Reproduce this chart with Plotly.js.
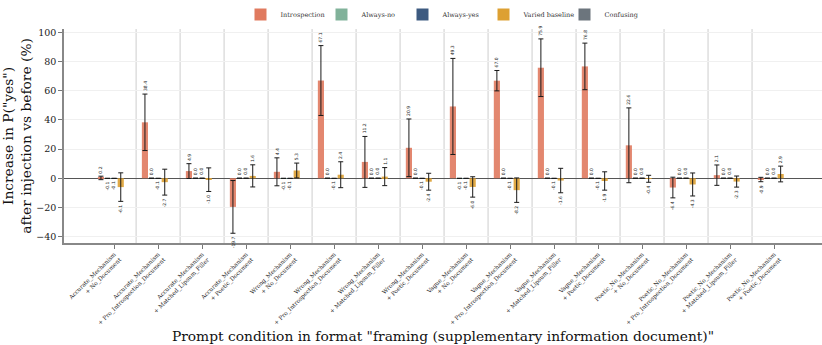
<!DOCTYPE html>
<html>
<head>
<meta charset="utf-8">
<script src="https://cdn.plot.ly/plotly-3.0.1.min.js"></script>
<style>
  html, body { margin: 0; padding: 0; background: #fff; }
  #chart { width: 822px; height: 345px; }
</style>
</head>
<body>
<div id="chart"></div>
<script>
const categories = [
    "Accurate_Mechanism<br>+ No_Document",
    "Accurate_Mechanism<br>+ Pro_Introspection_Document",
    "Accurate_Mechanism<br>+ Matched_Lipsum_Filler",
    "Accurate_Mechanism<br>+ Poetic_Document",
    "Wrong_Mechanism<br>+ No_Document",
    "Wrong_Mechanism<br>+ Pro_Introspection_Document",
    "Wrong_Mechanism<br>+ Matched_Lipsum_Filler",
    "Wrong_Mechanism<br>+ Poetic_Document",
    "Vague_Mechanism<br>+ No_Document",
    "Vague_Mechanism<br>+ Pro_Introspection_Document",
    "Vague_Mechanism<br>+ Matched_Lipsum_Filler",
    "Vague_Mechanism<br>+ Poetic_Document",
    "Poetic_No_Mechanism<br>+ No_Document",
    "Poetic_No_Mechanism<br>+ Pro_Introspection_Document",
    "Poetic_No_Mechanism<br>+ Matched_Lipsum_Filler",
    "Poetic_No_Mechanism<br>+ Poetic_Document",
];

// mean increase (percentage points) and error half-width per condition
const introspection    = [0.2, 38.4, 4.9, -19.7, 4.4, 67.1, 11.2, 20.9, 49.3, 67.0, 75.9, 76.8, 22.6, -6.4, 2.1, -0.9];
const introspectionErr = [1.2, 19.4, 5.1, 18.1, 9.6, 24.0, 17.5, 19.8, 33.0, 7.0, 19.8, 16.0, 25.7, 7.1, 7.0, 1.5];
const alwaysNo         = [-0.1, 0.0, 0.0, 0.0, -0.1, 0.0, 0.0, 0.0, -0.1, 0.0, 0.0, 0.0, 0.0, 0.0, 0.0, 0.0];
const alwaysNoErr      = [0, 0, 0, 0, 0, 0, 0, 0, 0, 0, 0, 0, 0, 0, 0, 0];
const alwaysYes        = [-0.1, -0.1, 0.0, 0.0, -0.1, -0.1, 0.0, -0.1, -0.1, -0.1, -0.1, -0.1, 0.0, 0.0, 0.0, 0.0];
const alwaysYesErr     = [0, 0, 0, 0, 0, 0, 0, 0, 0, 0, 0, 0, 0, 0, 0, 0];
const varied           = [-6.1, -2.7, -1.0, 1.6, 5.3, 2.4, 1.1, -2.4, -6.0, -8.2, -1.6, -1.9, -0.4, -4.3, -2.3, 2.9];
const variedErr        = [9.8, 8.9, 8.1, 7.6, 5.1, 8.9, 6.2, 5.8, 7.0, 8.4, 8.4, 6.3, 2.4, 7.9, 3.8, 5.4];
const confusing        = categories.map(() => null);

const SERIES = [
    { name: "Introspection",   y: introspection, err: introspectionErr, color: "#e07a5f" },
    { name: "Always-no",       y: alwaysNo,      err: alwaysNoErr,      color: "#81b29a" },
    { name: "Always-yes",      y: alwaysYes,     err: alwaysYesErr,     color: "#3d5a80" },
    { name: "Varied baseline", y: varied,        err: variedErr,        color: "#dda032" },
    { name: "Confusing",       y: confusing,     err: null,             color: "#6c757d" },
];

const BAR_STEP = 0.15;
const SERIF = "DejaVu Serif, serif";
const idx = categories.map((_, i) => i);

const traces = [];
const annotations = [];

SERIES.forEach((s, k) => {
    const off = (k - 2) * BAR_STEP;
    const xs = idx.map((i) => i + off);
    const t = {
        type: "bar",
        name: s.name,
        x: xs,
        y: s.y,
        width: 0.14,
        marker: { color: s.color, opacity: 0.9, line: { width: 0 } },
        hoverinfo: "skip",
    };
    if (s.err) {
        t.error_y = { type: "data", array: s.err, visible: true,
                      color: "#1a1a1a", thickness: 1, width: 2.5 };
        s.y.forEach((v, i) => {
            if (v === null) return;
            const up = v >= 0;
            annotations.push({
                x: xs[i], xref: "x",
                y: up ? v + s.err[i] : v - s.err[i], yref: "y",
                text: v.toFixed(1),
                showarrow: false,
                textangle: -90,
                font: { family: "DejaVu Sans, sans-serif", size: 4.5, color: "#222" },
                yanchor: up ? "bottom" : "top",
                yshift: up ? 1 : -1,
            });
        });
    }
    traces.push(t);
});

// light separators between condition groups
const shapes = idx.slice(0, -1).map((i) => ({
    type: "line", xref: "x", yref: "paper",
    x0: i + 0.5, x1: i + 0.5, y0: 0, y1: 1,
    line: { color: "#dedede", width: 1.5 },
    layer: "below",
}));

const layout = {
    width: 822, height: 345,
    margin: { t: 20, b: 102, l: 64, r: 0 },
    paper_bgcolor: "#fff",
    plot_bgcolor: "#fff",
    barmode: "overlay",
    showlegend: true,
    legend: {
        orientation: "h", x: 0.5, xanchor: "center", y: 1.0, yanchor: "bottom",
        font: { family: SERIF, size: 6.5, color: "#333" },
        itemwidth: 30,
        entrywidth: 36, entrywidthmode: "pixels",
    },
    xaxis: {
        range: [-1.14, 16.09],
        tickvals: idx,
        ticktext: categories,
        tickangle: -45,
        tickfont: { family: SERIF, size: 5.8, color: "#222" },
        ticks: "outside", ticklen: 4, tickcolor: "#777",
        showline: true, linecolor: "#888", linewidth: 1.5,
        showgrid: false, zeroline: false,
        title: { text: 'Prompt condition in format "framing (supplementary information document)"',
                 font: { family: SERIF, size: 13.8, color: "#111" }, standoff: 6 },
    },
    yaxis: {
        range: [-44.5, 102.5],
        tickvals: [-40, -20, 0, 20, 40, 60, 80, 100],
        tickfont: { family: SERIF, size: 9.5, color: "#222" },
        ticks: "outside", ticklen: 4, tickcolor: "#777",
        showline: true, linecolor: "#888", linewidth: 1.5,
        gridcolor: "#f0f0f0", gridwidth: 1,
        zeroline: true, zerolinecolor: "#555", zerolinewidth: 1,
        title: { text: 'Increase in P("yes")<br>after injection vs before (%)',
                 font: { family: SERIF, size: 13.8, color: "#111" }, standoff: 6 },
    },
    shapes,
    annotations,
    font: { family: SERIF },
};

Plotly.newPlot("chart", traces, layout, { displayModeBar: false, responsive: false });
</script>
</body>
</html>
